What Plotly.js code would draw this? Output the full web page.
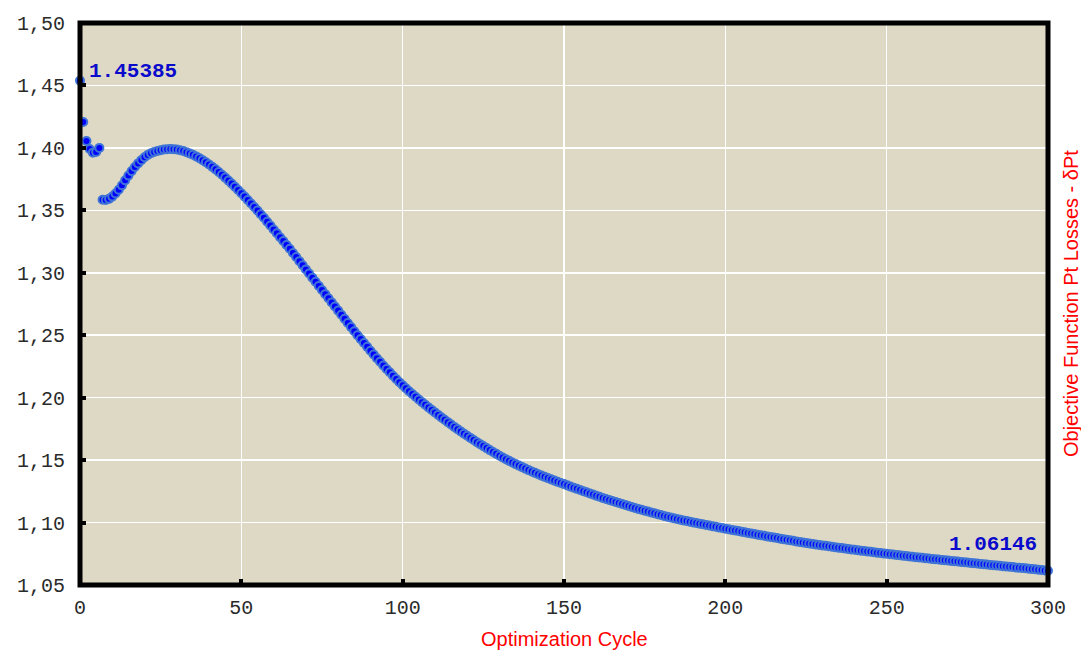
<!DOCTYPE html>
<html>
<head>
<meta charset="utf-8">
<script src="https://cdn.plot.ly/plotly-3.0.1.min.js"></script>
<style>html,body{margin:0;padding:0;background:#fff;}#chart{width:1081px;height:651px;}</style>
</head>
<body>
<div id="chart"></div>
<script>
// Objective function value per optimization cycle (cycle 0..300)
const objectiveValues = [
1.45385,1.4207,1.4055,1.3991,1.3962,1.3968,1.4000,1.3585,1.3583,1.3592,
1.3610,1.3635,1.3665,1.3700,1.3740,1.3778,1.3814,1.3847,1.3876,1.3902,
1.3925,1.3944,1.3958,1.3968,1.3976,1.3982,1.3987,1.3990,1.3991,1.3990,
1.3987,1.3982,1.3975,1.3966,1.3956,1.3945,1.3932,1.3918,1.3902,1.3885,
1.3867,1.3848,1.3828,1.3807,1.3785,1.3762,1.3738,1.3714,1.3689,1.3663,
1.3637,1.3610,1.3583,1.3555,1.3527,1.3498,1.3469,1.3440,1.3409,1.3378,
1.3347,1.3316,1.3285,1.3254,1.3223,1.3192,1.3159,1.3126,1.3093,1.3060,
1.3027,1.2994,1.2961,1.2928,1.2895,1.2862,1.2829,1.2796,1.2763,1.2730,
1.2697,1.2664,1.2631,1.2598,1.2565,1.2532,1.2500,1.2469,1.2438,1.2407,
1.2376,1.2346,1.2316,1.2287,1.2258,1.2230,1.2203,1.2176,1.2150,1.2124,
1.2099,1.2075,1.2052,1.2029,1.2007,1.1985,1.1964,1.1943,1.1922,1.1902,
1.1882,1.1862,1.1842,1.1823,1.1804,1.1785,1.1766,1.1748,1.1730,1.1712,
1.1695,1.1678,1.1661,1.1644,1.1628,1.1612,1.1596,1.1580,1.1565,1.1550,
1.1535,1.1521,1.1507,1.1494,1.1481,1.1468,1.1456,1.1444,1.1432,1.1420,
1.1409,1.1398,1.1387,1.1376,1.1366,1.1356,1.1346,1.1336,1.1326,1.1317,
1.1308,1.1298,1.1288,1.1279,1.1270,1.1260,1.1251,1.1242,1.1233,1.1224,
1.1215,1.1206,1.1197,1.1189,1.1180,1.1172,1.1164,1.1156,1.1148,1.1140,
1.1132,1.1124,1.1116,1.1109,1.1102,1.1095,1.1088,1.1081,1.1074,1.1067,
1.1060,1.1053,1.1046,1.1040,1.1034,1.1028,1.1022,1.1017,1.1012,1.1006,
1.1001,1.0996,1.0991,1.0986,1.0981,1.0976,1.0971,1.0966,1.0961,1.0956,
1.0951,1.0946,1.0941,1.0936,1.0932,1.0927,1.0922,1.0917,1.0913,1.0908,
1.0903,1.0899,1.0894,1.0889,1.0885,1.0880,1.0876,1.0871,1.0867,1.0862,
1.0858,1.0854,1.0849,1.0845,1.0841,1.0837,1.0833,1.0829,1.0825,1.0821,
1.0817,1.0814,1.0810,1.0806,1.0803,1.0799,1.0796,1.0792,1.0789,1.0785,
1.0782,1.0779,1.0775,1.0772,1.0769,1.0766,1.0762,1.0759,1.0756,1.0753,
1.0750,1.0747,1.0744,1.0741,1.0738,1.0735,1.0732,1.0729,1.0726,1.0723,
1.0721,1.0718,1.0715,1.0712,1.0709,1.0707,1.0704,1.0701,1.0698,1.0696,
1.0693,1.0690,1.0688,1.0685,1.0682,1.0680,1.0677,1.0674,1.0672,1.0669,
1.0666,1.0664,1.0661,1.0659,1.0656,1.0654,1.0651,1.0649,1.0646,1.0644,
1.0641,1.0639,1.0636,1.0634,1.0631,1.0629,1.0626,1.0623,1.0620,1.0617,
1.06146
];
const cycles = objectiveValues.map((v, i) => i);

const xTickValues = [0, 50, 100, 150, 200, 250, 300];
const yTickValues = [1.05, 1.10, 1.15, 1.20, 1.25, 1.30, 1.35, 1.40, 1.45, 1.50];

const xTitle = "Optimization Cycle";
const yTitle = "Objective Function Pt Losses - δPt";
const firstLabel = "1.45385";
const lastLabel = "1.06146";

const lastIdx = objectiveValues.length - 1;

const trace = {
  x: cycles,
  y: objectiveValues,
  type: "scatter",
  mode: "markers",
  marker: {size: 8, color: "#0000FF", line: {color: "#3F74D6", width: 2}},
  cliponaxis: false,
  hoverinfo: "x+y"
};

const layout = {
  width: 1081,
  height: 651,
  margin: {l: 80, r: 33, t: 23, b: 66},
  paper_bgcolor: "#ffffff",
  plot_bgcolor: "#DDD9C4",
  separators: ", ",
  showlegend: false,
  xaxis: {
    range: [0, 300],
    tickvals: xTickValues,
    ticks: "inside",
    ticklen: 6,
    tickwidth: 4,
    tickcolor: "#000",
    showgrid: true,
    gridcolor: "#ffffff",
    gridwidth: 1.5,
    zeroline: false,
    showline: false,
    ticklabelstandoff: 8,
    tickfont: {family: "Liberation Mono", size: 20, color: "#2a2a2a"}
  },
  yaxis: {
    range: [1.05, 1.50],
    tickvals: yTickValues,
    tickformat: ".2f",
    ticks: "inside",
    ticklen: 6,
    tickwidth: 4,
    tickcolor: "#000",
    showgrid: true,
    gridcolor: "#ffffff",
    gridwidth: 1.5,
    zeroline: false,
    showline: false,
    ticklabelstandoff: 14,
    tickfont: {family: "Liberation Mono", size: 20, color: "#2a2a2a"}
  },
  shapes: [{
    type: "rect", xref: "paper", yref: "paper",
    x0: 0, x1: 1, y0: 0, y1: 1,
    line: {color: "#000", width: 5},
    fillcolor: "rgba(0,0,0,0)",
    layer: "above"
  }],
  annotations: [
    {x: cycles[0], y: objectiveValues[0], xref: "x", yref: "y",
     text: "<b>" + firstLabel + "</b>", showarrow: false,
     xanchor: "left", yanchor: "middle", xshift: 7, yshift: 9,
     font: {family: "Liberation Mono", size: 21, color: "#0A0ACC"}},
    {x: cycles[lastIdx], y: objectiveValues[lastIdx], xref: "x", yref: "y",
     text: "<b>" + lastLabel + "</b>", showarrow: false,
     xanchor: "right", yanchor: "middle", xshift: -9, yshift: 26,
     font: {family: "Liberation Sans", size: 21, color: "#0A0ACC"}},
    {x: 0.5, y: 0, xref: "paper", yref: "paper", text: xTitle, showarrow: false,
     xanchor: "center", yanchor: "top", yshift: -41,
     font: {family: "Liberation Sans", size: 20, color: "#FF0000"}},
    {x: 1, y: 0.5, xref: "paper", yref: "paper", text: yTitle, showarrow: false,
     textangle: -90, xanchor: "left", yanchor: "middle", xshift: 10,
     font: {family: "Liberation Sans", size: 20, color: "#FF0000"}}
  ]
};
layout.annotations[1].font.family = "Liberation Mono";

Plotly.newPlot("chart", [trace], layout, {displayModeBar: false, staticPlot: true});
</script>
</body>
</html>
